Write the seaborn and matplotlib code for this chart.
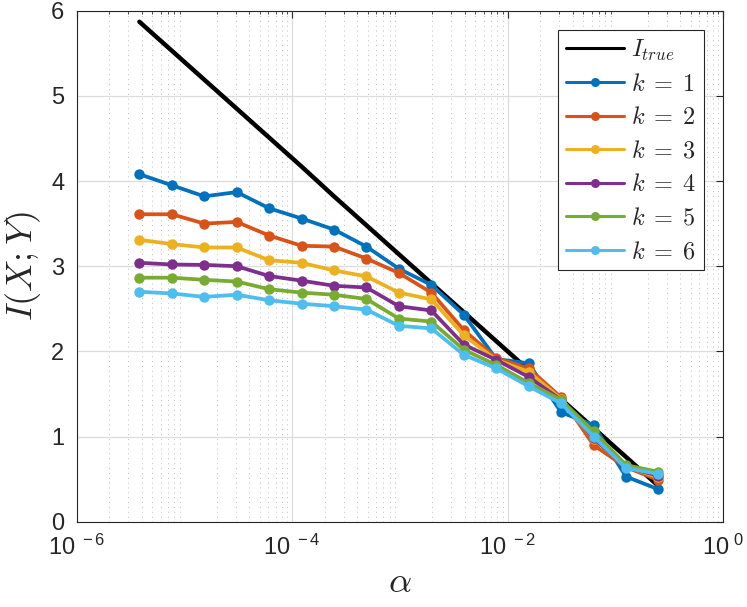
import numpy as np
import pandas as pd
import matplotlib
matplotlib.use("Agg")
import matplotlib.pyplot as plt
from matplotlib.ticker import LogLocator, FixedLocator, FixedFormatter, NullFormatter
import seaborn as sns

# values
alpha = [2.0 ** -p for p in range(18, 1, -1)]
i_true = [5.87, 5.53, 5.19, 4.85, 4.51, 4.17, 3.82, 3.48, 3.14, 2.80, 2.46, 2.12, 1.78, 1.44, 1.10, 0.76, 0.42]
k1 = [4.08, 3.95, 3.82, 3.87, 3.68, 3.56, 3.43, 3.23, 2.97, 2.78, 2.43, 1.91, 1.86, 1.285, 1.135, 0.53, 0.38]
k2 = [3.61, 3.61, 3.50, 3.52, 3.36, 3.24, 3.23, 3.09, 2.92, 2.69, 2.25, 1.92, 1.80, 1.46, 0.90, 0.64, 0.49]
k3 = [3.31, 3.26, 3.22, 3.22, 3.07, 3.04, 2.95, 2.88, 2.69, 2.61, 2.19, 1.90, 1.76, 1.44, 0.97, 0.65, 0.52]
k4 = [3.04, 3.02, 3.015, 3.00, 2.885, 2.83, 2.77, 2.75, 2.53, 2.48, 2.08, 1.90, 1.70, 1.43, 0.98, 0.64, 0.54]
k5 = [2.865, 2.865, 2.84, 2.82, 2.73, 2.69, 2.665, 2.615, 2.385, 2.35, 2.02, 1.84, 1.63, 1.43, 1.06, 0.665, 0.585]
k6 = [2.70, 2.68, 2.64, 2.665, 2.60, 2.56, 2.53, 2.49, 2.30, 2.27, 1.96, 1.80, 1.59, 1.39, 1.00, 0.63, 0.56]

series_names = [r"$k\;=\;1$", r"$k\;=\;2$", r"$k\;=\;3$", r"$k\;=\;4$", r"$k\;=\;5$", r"$k\;=\;6$"]
series_vals = [k1, k2, k3, k4, k5, k6]
colors = ["#0072BD", "#D95319", "#EDB120", "#7E2F8E", "#77AC30", "#4DBEEE"]

xtick_vals = [1e-6, 1e-4, 1e-2, 1e0]
xtick_labels = [r"$\mathregular{10^{\ -6}}$", r"$\mathregular{10^{\ -4}}$",
                r"$\mathregular{10^{\ -2}}$", r"$\mathregular{10^{\ 0}}$"]

sns.set_style("white")
plt.rcParams["font.family"] = ["Liberation Sans", "DejaVu Sans"]
plt.rcParams["mathtext.fontset"] = "cm"

df = pd.DataFrame({
    "alpha": np.tile(alpha, len(series_names)),
    "I": np.concatenate(series_vals),
    "k": np.repeat(series_names, len(alpha)),
})

fig = plt.figure(figsize=(7.47, 6.07), dpi=100)
ax = fig.add_axes([0.1027, 0.1405, 0.8656, 0.8419])

sns.lineplot(x=alpha, y=i_true, color="black", linewidth=3.2, ax=ax,
             label=r"$I_{true}$", zorder=2)
sns.lineplot(data=df, x="alpha", y="I", hue="k", palette=colors, ax=ax,
             marker="o", markersize=7.5, markeredgewidth=0, linewidth=2.7,
             zorder=3)

ax.set_xscale("log")
ax.set_xlim(1e-6, 1e0)
ax.set_ylim(0, 6)
ax.xaxis.set_major_locator(FixedLocator(xtick_vals))
ax.xaxis.set_major_formatter(FixedFormatter(xtick_labels))
ax.xaxis.set_minor_locator(LogLocator(base=10, subs=np.arange(2, 10), numticks=20))
ax.xaxis.set_minor_formatter(NullFormatter())
ax.set_yticks(range(0, 7))

ax.grid(True, which="major", color="#dcdcdc", linewidth=0.9, linestyle="-")
ax.grid(True, which="minor", axis="x", color="#bdbdbd", linewidth=0.7, linestyle=(0, (1, 4)))
ax.set_axisbelow(True)

for sp in ax.spines.values():
    sp.set_color("#262626")
    sp.set_linewidth(0.8)
ax.tick_params(which="both", direction="in", top=True, right=True, colors="#262626",
               labelsize=17, labelcolor="#262626")
ax.tick_params(which="major", length=5, width=0.8)
ax.tick_params(which="minor", length=2.5, width=0.6)
ax.tick_params(axis="x", pad=9)
ax.tick_params(axis="y", pad=9)

ax.set_xlabel(r"$\alpha$", fontsize=26, labelpad=4)
ax.set_ylabel(r"$I(X;Y)$", fontsize=26, labelpad=6)

leg = ax.legend(loc="upper right", fontsize=17.5, frameon=True, fancybox=False,
                edgecolor="#262626", framealpha=1, borderaxespad=0.8,
                handlelength=2.4, handletextpad=0.3, labelspacing=0.47,
                borderpad=0.3)
leg.get_frame().set_linewidth(0.8)
for h in leg.get_lines():
    h.set_linewidth(2.2)
    h.set_markersize(6.5)

fig.savefig("out.png", dpi=100)
